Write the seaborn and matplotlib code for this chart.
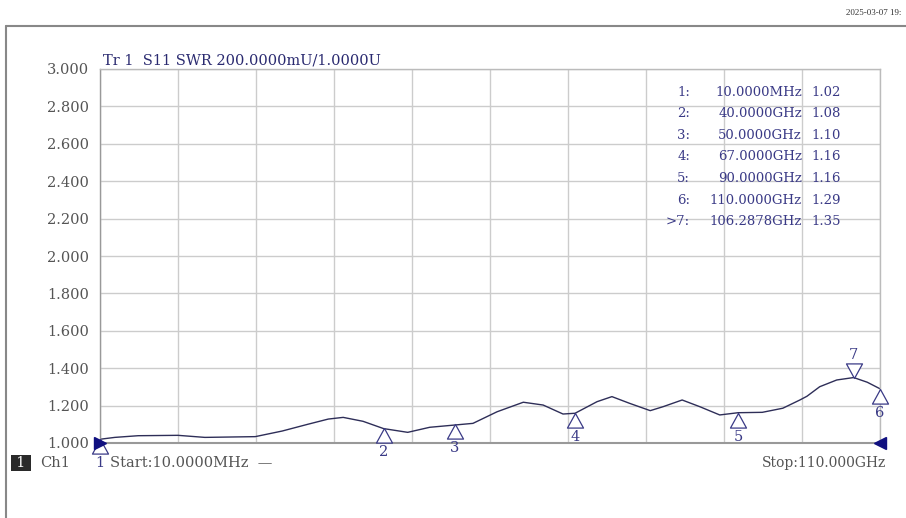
import matplotlib
matplotlib.use("Agg")
import matplotlib.pyplot as plt
import seaborn as sns
import pandas as pd
from matplotlib.path import Path

# trace (GHz, SWR)
freq = [0.01, 2.1, 5.4, 11.0, 14.8, 21.9, 25.7, 29.3, 32.2, 34.3, 37.1, 40.0, 43.4,
        46.5, 50.0, 52.6, 56.0, 59.7, 62.5, 65.3, 67.0, 70.1, 72.2, 74.7, 77.6,
        79.4, 82.1, 84.6, 87.4, 90.0, 93.4, 96.3, 98.7, 99.7, 101.5, 103.9, 106.29,
        108.2, 110.0]
swr = [1.020, 1.030, 1.039, 1.041, 1.030, 1.034, 1.064, 1.100, 1.128, 1.137, 1.116,
       1.077, 1.057, 1.084, 1.096, 1.105, 1.167, 1.218, 1.203, 1.155, 1.159, 1.221,
       1.248, 1.212, 1.173, 1.194, 1.230, 1.194, 1.150, 1.162, 1.164, 1.186, 1.230,
       1.250, 1.301, 1.337, 1.350, 1.325, 1.290]

mk_ids = ["1", "2", "3", "4", "5", "6", "7"]
mk_freq = [0.01, 40.0, 50.0, 67.0, 90.0, 110.0, 106.2878]
mk_val = [1.02, 1.08, 1.10, 1.16, 1.16, 1.29, 1.35]
mk_freq_txt = ["10.0000MHz", "40.0000GHz", "50.0000GHz", "67.0000GHz",
               "90.0000GHz", "110.0000GHz", "106.2878GHz"]
mk_val_txt = ["1.02", "1.08", "1.10", "1.16", "1.16", "1.29", "1.35"]

yticks = [1.0, 1.2, 1.4, 1.6, 1.8, 2.0, 2.2, 2.4, 2.6, 2.8, 3.0]

sns.set_theme(style="white")
plt.rcParams["font.family"] = ["DejaVu Serif"]

fig = plt.figure(figsize=(9.06, 5.18), dpi=100)
ax = fig.add_axes([100 / 906, 1 - 443 / 518, 780 / 906, 374 / 518])

df = pd.DataFrame({"f": freq, "swr": swr})
sns.lineplot(data=df, x="f", y="swr", ax=ax, color="#2e2e58", lw=1.0)

ax.set_xlim(0.01, 110.0)
ax.set_ylim(1.0, 3.0)
ax.set_xticks([0.01 + i * 10.999 for i in range(11)])
ax.set_yticks(yticks)
ax.set_xticklabels([])
ax.set_yticklabels(["%.3f" % v for v in yticks], color="#555555", fontsize=10.5)
ax.tick_params(axis="both", length=0, pad=8)
ax.tick_params(axis="x", pad=0)
ax.grid(True, color="#cccccc", lw=1.0)
ax.set_xlabel("")
ax.set_ylabel("")
for s in ax.spines.values():
    s.set_color("#bbbbbb")
    s.set_linewidth(1.0)
ax.spines["left"].set_color("#999999")
ax.spines["bottom"].set_color("#999999")
ax.spines["bottom"].set_linewidth(1.5)

navy = "#3a3a86"
tri_up = Path([(0, 0), (-0.55, -1), (0.55, -1), (0, 0)],
              [Path.MOVETO, Path.LINETO, Path.LINETO, Path.CLOSEPOLY])
tri_dn = Path([(0, 0), (-0.55, 1), (0.55, 1), (0, 0)],
              [Path.MOVETO, Path.LINETO, Path.LINETO, Path.CLOSEPOLY])
for i, (f, v) in enumerate(zip(mk_freq, mk_val)):
    down = mk_ids[i] == "7"
    ax.plot([f], [v], marker=tri_dn if down else tri_up, ms=21, mfc="white",
            mec=navy, mew=0.9, clip_on=False, zorder=5)
    ax.annotate(mk_ids[i], (f, v), xytext=(0, 23 if down else -24),
                textcoords="offset pixels", ha="center", va="center",
                color=navy, fontsize=10.5, annotation_clip=False)

# reference level arrows
ax.plot([0.01], [1.0], marker=">", ms=8, color="#101080", clip_on=False, zorder=6)
ax.plot([110.0], [1.0], marker="<", ms=8, color="#101080", clip_on=False, zorder=6)

# header and marker table
fig.text(103 / 906, 1 - 60 / 518, "Tr 1  S11 SWR 200.0000mU/1.0000U",
         color="#2a2a70", fontsize=10.5, va="center")
for i in range(len(mk_ids)):
    y = 1 - (92 + i * 21.6) / 518
    lab = (">" if mk_ids[i] == "7" else "") + mk_ids[i] + ":"
    fig.text(690 / 906, y, lab, color=navy, fontsize=9.5, ha="right", va="center")
    fig.text(802 / 906, y, mk_freq_txt[i], color=navy, fontsize=9.5, ha="right", va="center")
    fig.text(811 / 906, y, mk_val_txt[i], color=navy, fontsize=9.5, ha="left", va="center")

# footer
fig.text(21 / 906, 1 - 463 / 518, " 1 ", color="white", fontsize=10, va="center",
         ha="center", bbox=dict(boxstyle="square,pad=0.1", fc="#2a2a2a", ec="none"))
fig.text(40 / 906, 1 - 463 / 518, "Ch1", color="#555555", fontsize=10.5, va="center")
fig.text(110 / 906, 1 - 463 / 518, "Start:10.0000MHz  \u2014", color="#555555",
         fontsize=10.5, va="center")
fig.text(886 / 906, 1 - 463 / 518, "Stop:110.000GHz", color="#555555",
         fontsize=10, va="center", ha="right")
fig.text(846 / 906, 1 - 13 / 518, "2025-03-07 19:", color="#333333",
         fontsize=6.5, va="center", family="Liberation Serif")

# outer frame of the instrument screen
fig.add_artist(plt.Line2D([6 / 906, 6 / 906], [0, 1 - 26 / 518], color="#888888",
                          lw=1.5, transform=fig.transFigure))
fig.add_artist(plt.Line2D([6 / 906, 1], [1 - 26 / 518, 1 - 26 / 518], color="#888888",
                          lw=1.5, transform=fig.transFigure))

fig.savefig("out.png", dpi=100)
